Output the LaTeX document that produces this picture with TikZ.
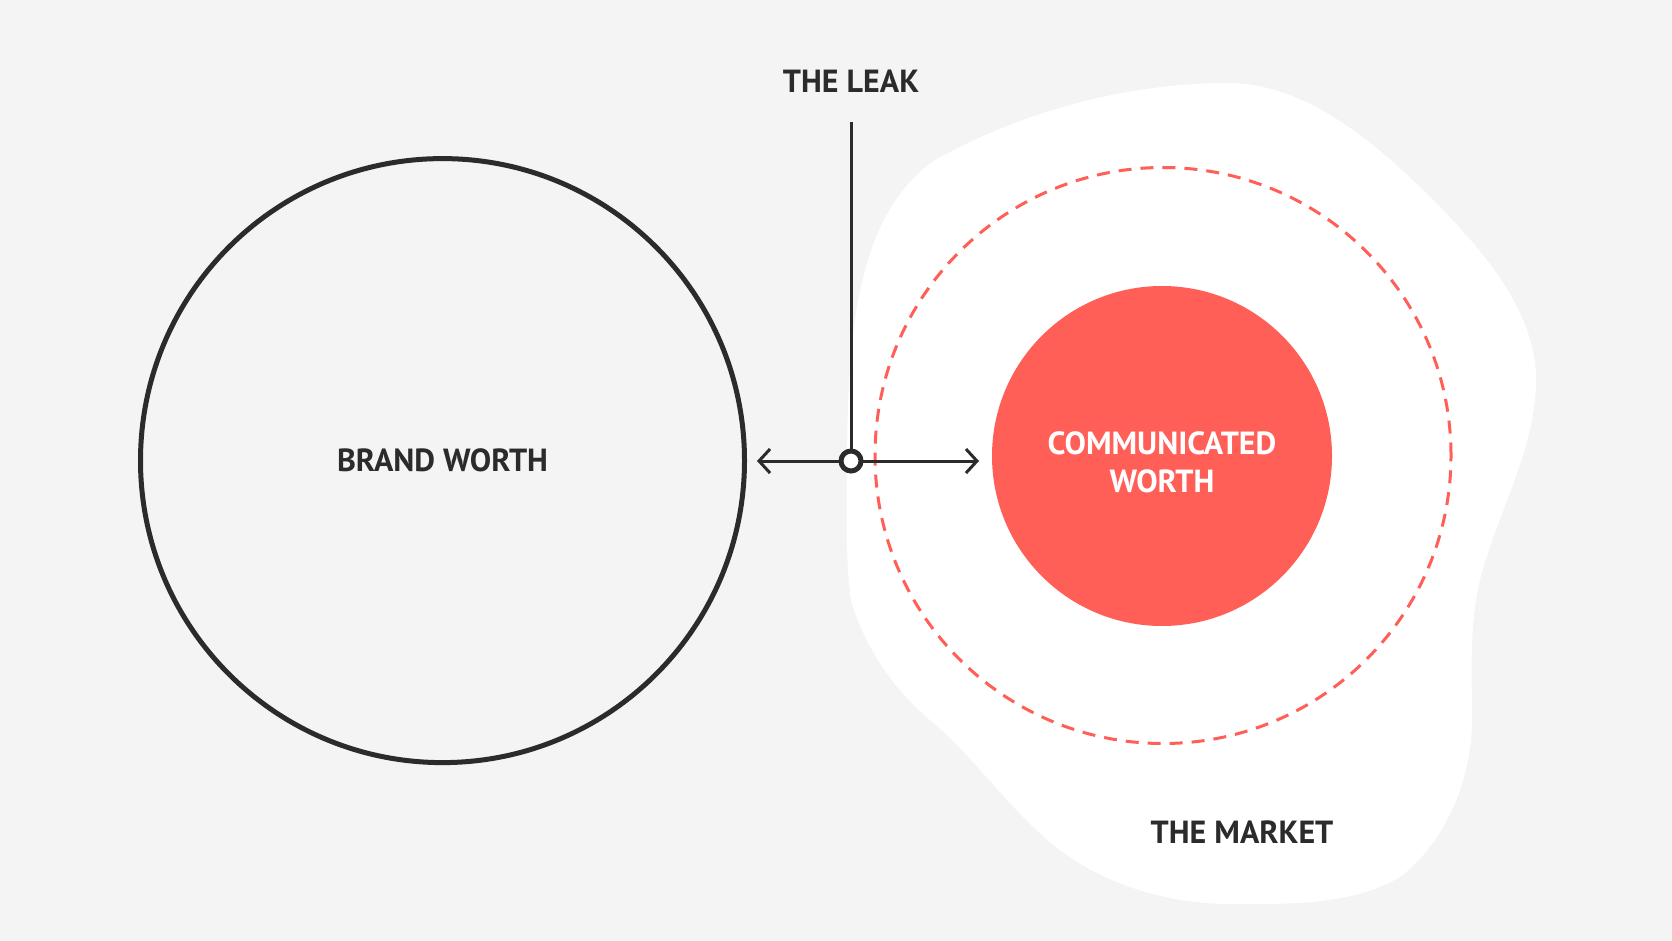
\documentclass[tikz,border=0pt]{standalone}
\usepackage{fontspec}
\setmainfont{PT Sans}
\usetikzlibrary{arrows.meta}
\definecolor{bg}{HTML}{F4F4F4}
\definecolor{ink}{HTML}{2B2B2B}
\definecolor{coral}{HTML}{FF5F57}
\begin{document}
\begin{tikzpicture}[x=1pt,y=-1pt,
  lbl/.style={font=\bfseries\fontsize{32}{38}\selectfont, text=ink, inner sep=0pt, align=center},
  wlbl/.style={lbl, text=white},
  connector/.style={draw=ink, line width=3pt},
  tip/.style={-{Straight Barb[length=11pt,width=24pt,line width=3pt]}},
  ring/.style={draw=coral, line width=3pt, dash pattern=on 13pt off 9pt},
]
\useasboundingbox (0,0) rectangle (1672,941);
\fill[bg] (0,0) rectangle (1672,941);

% the market blob
\fill[white] (847,470)
  .. controls (847,340) and (855,215) .. (935,160)
  .. controls (1023,111) and (1128,83) .. (1228,83)
  .. controls (1307,83) and (1378,145) .. (1433,200)
  .. controls (1482,249) and (1536,311) .. (1536,380)
  .. controls (1536,449) and (1497,513) .. (1480,580)
  .. controls (1469,625) and (1472,673) .. (1472,720)
  .. controls (1472,778) and (1446,842) .. (1400,877)
  .. controls (1351,906) and (1287,904) .. (1230,904)
  .. controls (1171,904) and (1107,886) .. (1060,850)
  .. controls (1011,813) and (977,759) .. (930,720)
  .. controls (893,689) and (864,646) .. (851,600)
  .. controls (845,557) and (847,513) .. (847,470) -- cycle;

% brand worth
\node[circle, draw=ink, line width=5pt, minimum size=604pt, inner sep=0pt] (brand) at (442.5,460.6) {};
\node[lbl] (brandlbl) at (442.5,460.6) {BRAND WORTH};

% dashed ring and communicated worth
\node[circle, ring, minimum size=576pt, inner sep=0pt] (ring) at (1163,455.5) {};
\node[circle, fill=coral, minimum size=340pt, inner sep=0pt] (comm) at (1162,456) {};
\node[wlbl] (commlbl) at (1162,462.5) {COMMUNICATED\\WORTH};

\node[lbl] (market) at (1242,832) {THE MARKET};
\node[lbl] (leaklbl) at (851,81) {THE LEAK};

% leak point and connectors
\coordinate (leaktop) at (851,122);
\coordinate (leftend) at (757,461);
\coordinate (rightend) at (979,461);
\node[circle, minimum size=20pt, inner sep=0pt] (leak) at (851,461) {};
\draw[connector] (leaktop) -- (leak.north);
\draw[connector, tip] (leak.west) -- (leftend);
\draw[connector, tip] (leak.east) -- (rightend);
\node[circle, draw=ink, fill=white, line width=5pt, minimum size=20pt, inner sep=0pt] at (leak) {};
\end{tikzpicture}
\end{document}
